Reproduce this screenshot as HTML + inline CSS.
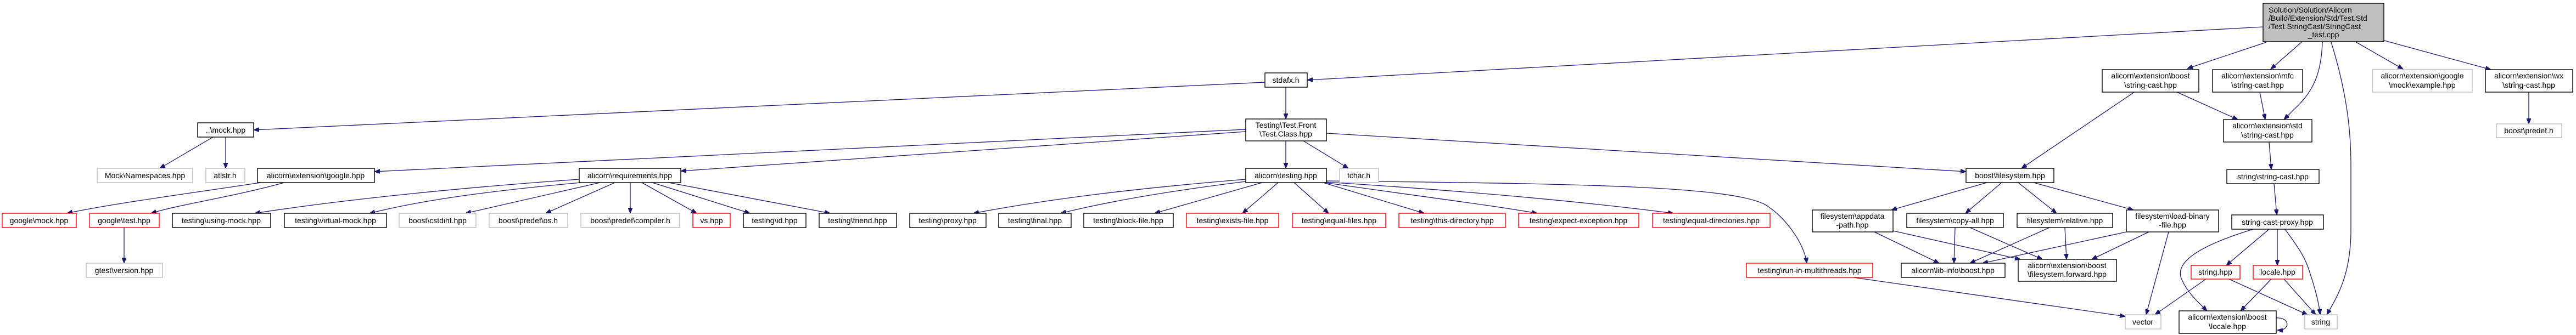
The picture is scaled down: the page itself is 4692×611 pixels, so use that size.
<!DOCTYPE html>
<html><head><meta charset="utf-8"><style>
html,body{margin:0;padding:0;background:#fff;}
svg{display:block}
text{font-family:"Liberation Sans",sans-serif;font-size:14px;fill:#000;text-anchor:middle}
.b{fill:#fff;stroke:#000;stroke-width:1.4}
.g{fill:#fff;stroke:#bfbfbf;stroke-width:1.4}
.r{fill:#fff;stroke:#ff0000;stroke-width:1.4}
path.e{fill:none;stroke:#191970;stroke-width:1.3;marker-end:url(#a)}
</style></head><body>
<svg width="4692" height="611" viewBox="0 0 4692 611" xmlns="http://www.w3.org/2000/svg">
<defs><marker id="a" markerUnits="userSpaceOnUse" markerWidth="11" markerHeight="8" refX="10" refY="4" orient="auto"><path d="M0,0 L10,4 L0,8 z" fill="#191970" stroke="#191970"/></marker></defs>
<g>
<path class="e" d="M4122,49 L2381,146"/>
<path class="e" d="M4128,77 L3984,125"/>
<path class="e" d="M4192,77 L4136,126"/>
<path class="e" d="M4230,77 C4228,140 4210,170 4178,200 L4160,218"/>
<path class="e" d="M4246,77 C4275,170 4282,240 4282,300 L4282,420 C4282,500 4258,540 4238,574"/>
<path class="e" d="M4290,76 L4377,126"/>
<path class="e" d="M4343,74 L4537,127"/>
<path class="e" d="M2304,150 L462,237"/>
<path class="e" d="M2342,159 L2342,217"/>
<path class="e" d="M388,250 L291,307"/>
<path class="e" d="M411,250 L411,307"/>
<path class="e" d="M2269,236 L682,313"/>
<path class="e" d="M2269,240 L1240,312"/>
<path class="e" d="M2342,257 L2342,307"/>
<path class="e" d="M2374,257 L2456,307"/>
<path class="e" d="M2416,243 L3581,313"/>
<path class="e" d="M475,333 C350,352 200,372 122,389"/>
<path class="e" d="M518,333 C420,360 330,372 275,389"/>
<path class="e" d="M1055,327 C800,345 600,368 464,389"/>
<path class="e" d="M1058,333 C850,352 750,370 673,389"/>
<path class="e" d="M1093,333 L848,389"/>
<path class="e" d="M1120,333 L994,389"/>
<path class="e" d="M1148,333 L1148,389"/>
<path class="e" d="M1169,333 L1269,389"/>
<path class="e" d="M1188,333 L1366,389"/>
<path class="e" d="M1218,333 L1512,389"/>
<path class="e" d="M2269,327 C2050,345 1900,365 1773,389"/>
<path class="e" d="M2269,331 C2100,352 2000,372 1932,389"/>
<path class="e" d="M2299,333 L2103,389"/>
<path class="e" d="M2328,333 L2263,389"/>
<path class="e" d="M2357,333 L2420,389"/>
<path class="e" d="M2410,333 L2594,389"/>
<path class="e" d="M2412,333 C2600,360 2720,375 2800,389"/>
<path class="e" d="M2414,332 C2700,350 2900,370 3048,389"/>
<path class="e" d="M2416,330 C2900,335 3150,340 3215,373 C3250,395 3285,440 3291,480"/>
<path class="e" d="M226,415 L226,480"/>
<path class="e" d="M3889,167 L3682,307"/>
<path class="e" d="M3963,167 L4076,218"/>
<path class="e" d="M4116,168 L4126,218"/>
<path class="e" d="M4133,259 L4137,309"/>
<path class="e" d="M4142,335 L4147,392"/>
<path class="e" d="M4606,168 L4606,226"/>
<path class="e" d="M3619,333 L3445,383"/>
<path class="e" d="M3646,333 L3580,389"/>
<path class="e" d="M3676,333 L3746,389"/>
<path class="e" d="M3704,333 L3886,383"/>
<path class="e" d="M3414,423 L3532,480"/>
<path class="e" d="M3448,421 L3680,473"/>
<path class="e" d="M3561,415 L3559,480"/>
<path class="e" d="M3588,415 L3720,473"/>
<path class="e" d="M3733,415 L3588,480"/>
<path class="e" d="M3761,415 L3764,473"/>
<path class="e" d="M3873,423 L3611,480"/>
<path class="e" d="M3914,423 L3810,473"/>
<path class="e" d="M3950,423 L3909,574"/>
<path class="e" d="M3376,506 L3871,577"/>
<path class="e" d="M4104,418 C4000,450 3960,480 3974,510 C3985,535 4005,552 4020,567"/>
<path class="e" d="M4133,418 L4055,484"/>
<path class="e" d="M4148,418 L4148,484"/>
<path class="e" d="M4162,418 C4185,450 4200,470 4208,500 C4218,530 4224,555 4226,574"/>
<path class="e" d="M4018,509 L3925,574"/>
<path class="e" d="M4060,509 L4203,574"/>
<path class="e" d="M4137,509 L4081,567"/>
<path class="e" d="M4160,509 L4218,574"/>
<path class="e" d="M4146,580 C4172,578 4172,604 4148,602"/>
</g>
<g>
<rect x="4122" y="6" width="220" height="70" fill="#bfbfbf" stroke="#000" stroke-width="1.4"/>
<text x="4132" y="23" style="text-anchor:start">Solution/Solution/Alicorn</text>
<text x="4132" y="38" style="text-anchor:start">/Build/Extension/Std/Test.Std</text>
<text x="4132" y="53" style="text-anchor:start">/Test.StringCast/StringCast</text>
<text x="4232" y="68">_test.cpp</text>

<rect class="b" x="2304" y="133" width="77" height="26"/><text x="2342" y="151">stdafx.h</text>
<rect class="b" x="360" y="224" width="102" height="26"/><text x="411" y="242">..\mock.hpp</text>
<rect class="b" x="2269" y="217" width="147" height="40"/><text x="2342" y="233">Testing\Test.Front</text><text x="2342" y="249">\Test.Class.hpp</text>

<rect class="g" x="177" y="307" width="174" height="26"/><text x="264" y="325">Mock\Namespaces.hpp</text>
<rect class="g" x="375" y="307" width="71" height="26"/><text x="410" y="325">atlstr.h</text>
<rect class="b" x="469" y="307" width="213" height="26"/><text x="575" y="325">alicorn\extension\google.hpp</text>
<rect class="b" x="1055" y="307" width="185" height="26"/><text x="1147" y="325">alicorn\requirements.hpp</text>
<rect class="b" x="2269" y="307" width="147" height="26"/><text x="2342" y="325">alicorn\testing.hpp</text>
<rect class="g" x="2440" y="307" width="71" height="26"/><text x="2475" y="325">tchar.h</text>
<rect class="b" x="3581" y="307" width="160" height="26"/><text x="3661" y="325">boost\filesystem.hpp</text>

<rect class="r" x="4" y="389" width="135" height="26"/><text x="71" y="407">google\mock.hpp</text>
<rect class="r" x="163" y="389" width="127" height="26"/><text x="226" y="407">google\test.hpp</text>
<rect class="b" x="314" y="389" width="179" height="26"/><text x="403" y="407">testing\using-mock.hpp</text>
<rect class="b" x="518" y="389" width="186" height="26"/><text x="611" y="407">testing\virtual-mock.hpp</text>
<rect class="g" x="727" y="389" width="140" height="26"/><text x="797" y="407">boost\cstdint.hpp</text>
<rect class="g" x="891" y="389" width="143" height="26"/><text x="962" y="407">boost\predef\os.h</text>
<rect class="g" x="1058" y="389" width="180" height="26"/><text x="1148" y="407">boost\predef\compiler.h</text>
<rect class="r" x="1262" y="389" width="68" height="26"/><text x="1296" y="407">vs.hpp</text>
<rect class="b" x="1354" y="389" width="114" height="26"/><text x="1411" y="407">testing\id.hpp</text>
<rect class="b" x="1492" y="389" width="141" height="26"/><text x="1562" y="407">testing\friend.hpp</text>
<rect class="b" x="1657" y="389" width="139" height="26"/><text x="1726" y="407">testing\proxy.hpp</text>
<rect class="b" x="1819" y="389" width="132" height="26"/><text x="1885" y="407">testing\final.hpp</text>
<rect class="b" x="1974" y="389" width="163" height="26"/><text x="2055" y="407">testing\block-file.hpp</text>
<rect class="r" x="2161" y="389" width="168" height="26"/><text x="2245" y="407">testing\exists-file.hpp</text>
<rect class="r" x="2354" y="389" width="170" height="26"/><text x="2439" y="407">testing\equal-files.hpp</text>
<rect class="r" x="2548" y="389" width="194" height="26"/><text x="2645" y="407">testing\this-directory.hpp</text>
<rect class="r" x="2766" y="389" width="219" height="26"/><text x="2875" y="407">testing\expect-exception.hpp</text>
<rect class="r" x="3010" y="389" width="214" height="26"/><text x="3117" y="407">testing\equal-directories.hpp</text>
<rect class="b" x="3301" y="383" width="147" height="40"/><text x="3374" y="399">filesystem\appdata</text><text x="3374" y="415">-path.hpp</text>
<rect class="b" x="3473" y="389" width="176" height="26"/><text x="3561" y="407">filesystem\copy-all.hpp</text>
<rect class="b" x="3674" y="389" width="174" height="26"/><text x="3761" y="407">filesystem\relative.hpp</text>
<rect class="b" x="3873" y="383" width="168" height="40"/><text x="3957" y="399">filesystem\load-binary</text><text x="3957" y="415">-file.hpp</text>

<rect class="b" x="3829" y="127" width="176" height="41"/><text x="3917" y="143">alicorn\extension\boost</text><text x="3917" y="160">\string-cast.hpp</text>
<rect class="b" x="4030" y="127" width="164" height="41"/><text x="4112" y="143">alicorn\extension\mfc</text><text x="4112" y="160">\string-cast.hpp</text>
<rect class="g" x="4321" y="127" width="182" height="41"/><text x="4412" y="143">alicorn\extension\google</text><text x="4412" y="160">\mock\example.hpp</text>
<rect class="b" x="4527" y="127" width="159" height="41"/><text x="4606" y="143">alicorn\extension\wx</text><text x="4606" y="160">\string-cast.hpp</text>
<rect class="b" x="4050" y="218" width="161" height="41"/><text x="4130" y="234">alicorn\extension\std</text><text x="4130" y="251">\string-cast.hpp</text>
<rect class="g" x="4547" y="226" width="119" height="25"/><text x="4606" y="243">boost\predef.h</text>
<rect class="b" x="4056" y="309" width="168" height="26"/><text x="4140" y="327">string\string-cast.hpp</text>
<rect class="b" x="4065" y="392" width="167" height="26"/><text x="4148" y="410">string-cast-proxy.hpp</text>

<rect class="g" x="157" y="480" width="139" height="26"/><text x="226" y="498">gtest\version.hpp</text>
<rect class="r" x="3181" y="480" width="230" height="26"/><text x="3296" y="498">testing\run-in-multithreads.hpp</text>
<rect class="b" x="3463" y="480" width="189" height="26"/><text x="3557" y="498">alicorn\lib-info\boost.hpp</text>
<rect class="b" x="3676" y="473" width="179" height="40"/><text x="3765" y="489">alicorn\extension\boost</text><text x="3765" y="505">\filesystem.forward.hpp</text>
<rect class="r" x="3991" y="484" width="89" height="25"/><text x="4035" y="501">string.hpp</text>
<rect class="r" x="4104" y="484" width="90" height="25"/><text x="4149" y="501">locale.hpp</text>

<rect class="g" x="3871" y="574" width="65" height="26"/><text x="3903" y="592">vector</text>
<rect class="b" x="3969" y="567" width="177" height="41"/><text x="4057" y="583">alicorn\extension\boost</text><text x="4057" y="600">\locale.hpp</text>
<rect class="g" x="4198" y="574" width="59" height="26"/><text x="4227" y="592">string</text>
</g>
</svg>
</body></html>
